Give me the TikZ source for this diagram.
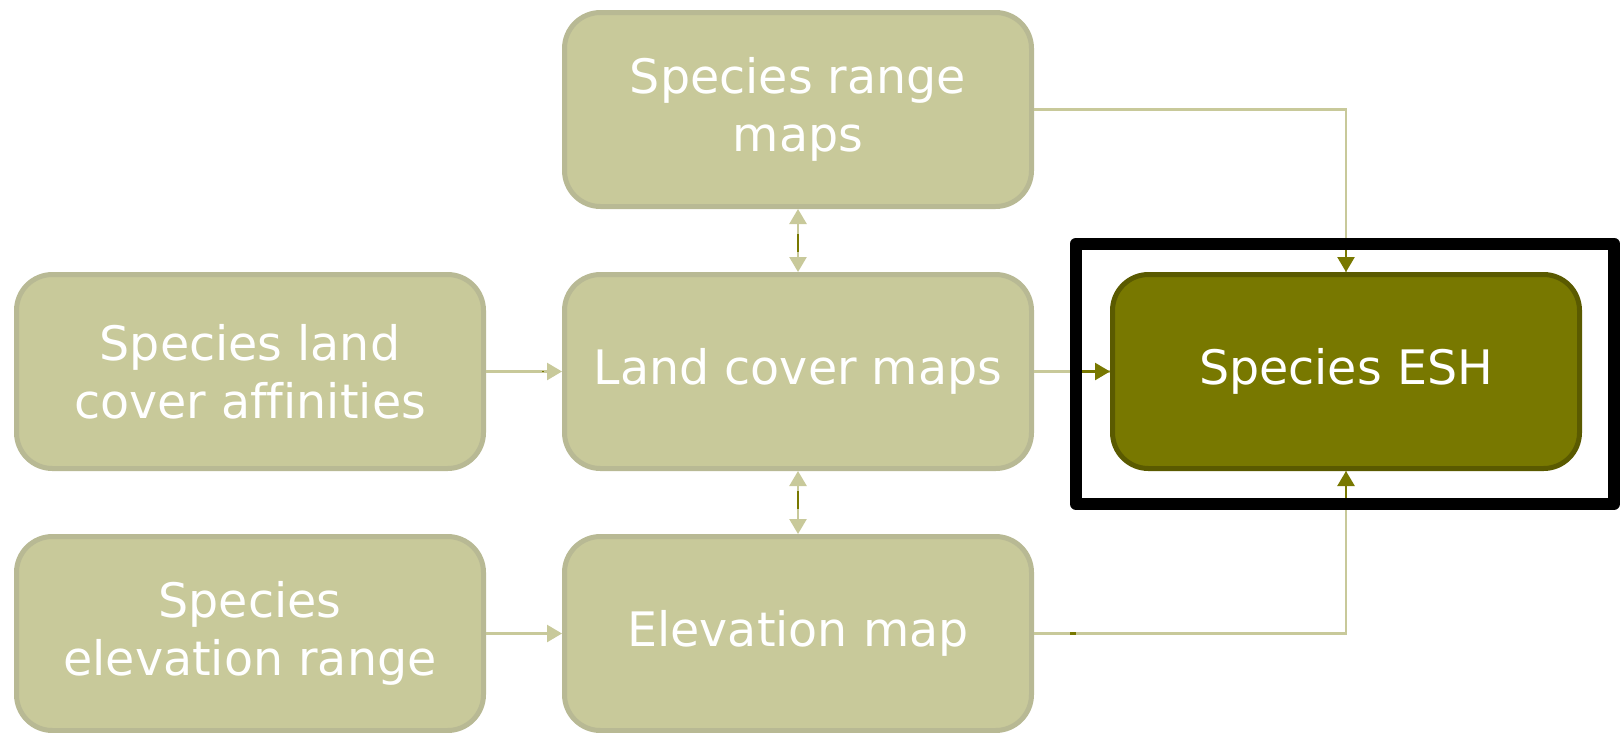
\documentclass[tikz,border=0pt]{standalone}
\usepackage{fontspec}
\setmainfont[Ligatures={NoCommon}]{DejaVu Sans}
\usetikzlibrary{arrows.meta,calc}
\definecolor{boxfill}{HTML}{C8C99A}
\definecolor{boxline}{HTML}{B8B994}
\definecolor{eshfill}{HTML}{787800}
\definecolor{eshline}{HTML}{5A5A00}
\definecolor{connlight}{HTML}{C8C99A}
\definecolor{conndark}{HTML}{787800}
\begin{document}
\begin{tikzpicture}[x=1pt,y=-1pt,
  box/.style={draw=boxline, fill=boxfill, line width=5pt, rounded corners=36pt,
    minimum width=467pt, minimum height=194pt, inner sep=0pt, text=white,
    font=\fontsize{47.5}{58}\selectfont, align=center},
  eshbox/.style={box, draw=eshline, fill=eshfill},
  tip/.style={-{Triangle[length=15pt,width=17pt]}},
  biTip/.style={{Triangle[length=15pt,width=17pt]}-{Triangle[length=15pt,width=17pt]}},
  lightline/.style={draw=connlight, line width=2.5pt},
  darkline/.style={draw=conndark, line width=2.5pt},
  frame/.style={draw=black, line width=12pt, line join=round}
]
\fill[white] (0,0) rectangle (1621,732);
\useasboundingbox (0,0) rectangle (1621,732);

\node[box] (range) at (798,109.5) {Species range\\maps};
\node[box] (land) at (798,371.5) {Land cover maps};
\node[box] (elev) at (798,633.5) {Elevation map};
\node[box] (aff) at (250,371.5) {Species land\\cover affinities};
\node[box] (erange) at (250,633.5) {Species\\elevation range};
\node[eshbox] (esh) at (1346,371.5) {Species ESH};

\coordinate (fnw) at (1076,243.5);
\coordinate (fse) at (1614,504);

% light connectors
\draw[lightline, tip] (aff) -- (land);
\draw[lightline, tip] (erange) -- (elev);
\draw[lightline, biTip, fill=connlight] (range) -- (land);
\draw[lightline, biTip, fill=connlight] (land) -- (elev);
\draw[lightline] (range.east) -| (esh.north);
\draw[lightline] (elev.east) -| (esh.south);
\draw[lightline] (land.east) -- (esh.west);

% dark parts
\draw[darkline, tip] (esh.north |- fnw) -- (esh.north);
\draw[darkline, tip] (esh.south |- fse) -- (esh.south);
\draw[darkline, tip] (fnw |- esh.west) -- (esh.west);
\draw[darkline] ($(range.south)!0.4!(land.north)$) -- ($(range.south)!0.68!(land.north)$);
\draw[darkline] ($(land.south)!0.32!(elev.north)$) -- ($(land.south)!0.6!(elev.north)$);
\draw[darkline] ($(elev.east)+(36,0)$) -- ($(elev.east)+(42,0)$);
\draw[darkline, line width=1.5pt] ($(aff.east)+(56,0)$) -- ($(aff.east)+(57.5,0)$);

% highlight frame
\draw[frame] (fnw) rectangle (fse);
\end{tikzpicture}
\end{document}
